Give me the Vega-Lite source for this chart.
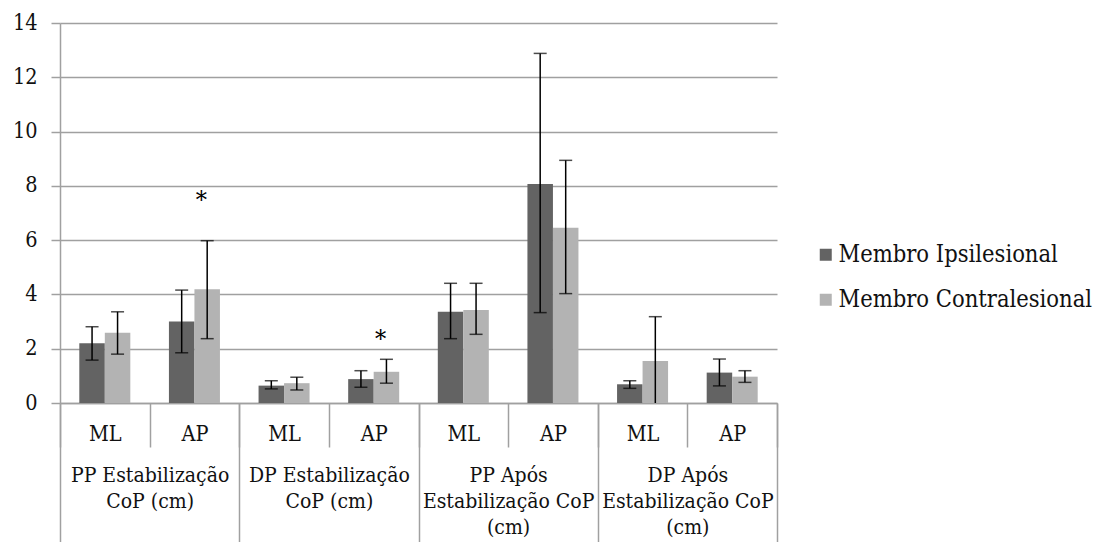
{
  "$schema": "https://vega.github.io/schema/vega-lite/v6.json",
  "width": 717,
  "height": 380,
  "autosize": {"type": "none"},
  "padding": {"left": 60, "top": 23, "right": 318, "bottom": 139},
  "background": "white",
  "config": {
    "view": {"stroke": null},
    "font": "DejaVu Serif Condensed",
    "axis": {"labelFont": "DejaVu Serif Condensed", "labelFontSize": 21.5, "labelColor": "#111111"},
    "legend": {"labelFont": "DejaVu Serif Condensed"}
  },
  "datasets": {
    "bars": [
      {"key": "1|ML", "series": "Membro Ipsilesional", "value": 2.2, "lo": 1.58, "hi": 2.81},
      {"key": "1|ML", "series": "Membro Contralesional", "value": 2.59, "lo": 1.8, "hi": 3.36},
      {"key": "1|AP", "series": "Membro Ipsilesional", "value": 3.0, "lo": 1.85, "hi": 4.16},
      {"key": "1|AP", "series": "Membro Contralesional", "value": 4.19, "lo": 2.37, "hi": 5.98},
      {"key": "2|ML", "series": "Membro Ipsilesional", "value": 0.64, "lo": 0.52, "hi": 0.82},
      {"key": "2|ML", "series": "Membro Contralesional", "value": 0.73, "lo": 0.48, "hi": 0.95},
      {"key": "2|AP", "series": "Membro Ipsilesional", "value": 0.88, "lo": 0.58, "hi": 1.19},
      {"key": "2|AP", "series": "Membro Contralesional", "value": 1.15, "lo": 0.73, "hi": 1.61},
      {"key": "3|ML", "series": "Membro Ipsilesional", "value": 3.36, "lo": 2.37, "hi": 4.41},
      {"key": "3|ML", "series": "Membro Contralesional", "value": 3.43, "lo": 2.53, "hi": 4.41},
      {"key": "3|AP", "series": "Membro Ipsilesional", "value": 8.07, "lo": 3.33, "hi": 12.88},
      {"key": "3|AP", "series": "Membro Contralesional", "value": 6.46, "lo": 4.03, "hi": 8.94},
      {"key": "4|ML", "series": "Membro Ipsilesional", "value": 0.69, "lo": 0.54, "hi": 0.82},
      {"key": "4|ML", "series": "Membro Contralesional", "value": 1.55, "lo": -0.08, "hi": 3.18},
      {"key": "4|AP", "series": "Membro Ipsilesional", "value": 1.12, "lo": 0.63, "hi": 1.62},
      {"key": "4|AP", "series": "Membro Contralesional", "value": 0.97, "lo": 0.76, "hi": 1.19}
    ],
    "stars": [
      {"key": "1|AP", "y": 7.49},
      {"key": "2|AP", "y": 2.36}
    ],
    "groups": [
      {"group": "PP Estabilização|CoP (cm)"},
      {"group": "DP Estabilização|CoP (cm)"},
      {"group": "PP Após|Estabilização CoP|(cm)"},
      {"group": "DP Após|Estabilização CoP|(cm)"}
    ]
  },
  "layer": [
    {
      "data": {"name": "bars"},
      "encoding": {
        "x": {
          "field": "key",
          "type": "nominal",
          "scale": {"domain": ["1|ML", "1|AP", "2|ML", "2|AP", "3|ML", "3|AP", "4|ML", "4|AP"], "paddingInner": 0, "paddingOuter": 0},
          "axis": {
            "title": null,
            "labelFont": "DejaVu Serif Condensed",
            "labelExpr": "datum.value ? split(datum.value, '|')[1] : ''",
            "labelAngle": 0,
            "labelBaseline": "alphabetic",
            "labelPadding": -7,
            "labelOverlap": false,
            "tickBand": "extent",
            "tickSize": 44,
            "tickColor": "#a0a0a0",
            "tickWidth": 1.5,
            "domainColor": "#a0a0a0",
            "domainWidth": 1.5
          }
        }
      },
      "layer": [
        {
          "mark": {"type": "bar"},
          "encoding": {
            "xOffset": {"field": "series", "type": "nominal", "scale": {"domain": ["Membro Ipsilesional", "Membro Contralesional"], "paddingInner": 0, "paddingOuter": 0.757}},
            "y": {
              "field": "value",
              "type": "quantitative",
              "scale": {"domain": [0, 14], "nice": false},
              "axis": {
                "title": null,
                "labelFont": "DejaVu Serif Condensed",
                "values": [0, 2, 4, 6, 8, 10, 12, 14],
                "grid": true,
                "gridColor": "#a0a0a0",
                "gridWidth": 1.5,
                "domainColor": "#a0a0a0",
                "domainWidth": 1.5,
                "tickColor": "#a0a0a0",
                "tickWidth": 1.5,
                "tickSize": 9,
                "labelPadding": 14
              }
            },
            "color": {
              "field": "series",
              "type": "nominal",
              "scale": {"domain": ["Membro Ipsilesional", "Membro Contralesional"], "range": ["#636363", "#b3b3b3"]},
              "legend": {
                "orient": "none",
                "legendX": 754,
                "legendY": 220,
                "title": null,
                "symbolType": "square",
                "symbolSize": 144,
                "symbolStrokeWidth": 0,
                "labelFont": "DejaVu Serif Condensed",
                "labelFontSize": 23.5,
                "labelColor": "#111111",
                "labelOffset": 1,
                "labelLimit": 0,
                "rowPadding": 20
              }
            }
          }
        },
        {
          "mark": {"type": "rule", "color": "#000000", "strokeWidth": 1.5, "clip": true},
          "encoding": {
            "xOffset": {"field": "series", "type": "nominal"},
            "y": {"field": "lo", "type": "quantitative", "title": null},
            "y2": {"field": "hi"}
          }
        },
        {
          "mark": {"type": "tick", "color": "#000000", "size": 13, "thickness": 1.5, "clip": true},
          "encoding": {
            "xOffset": {"field": "series", "type": "nominal"},
            "y": {"field": "hi", "type": "quantitative", "title": null}
          }
        },
        {
          "mark": {"type": "tick", "color": "#000000", "size": 13, "thickness": 1.5, "clip": true},
          "encoding": {
            "xOffset": {"field": "series", "type": "nominal"},
            "y": {"field": "lo", "type": "quantitative", "title": null}
          }
        },
        {
          "data": {"name": "stars"},
          "mark": {"type": "text", "text": "*", "fontSize": 25, "font": "DejaVu Serif Condensed", "color": "#000000", "dx": 7, "baseline": "middle"},
          "encoding": {
            "y": {"field": "y", "type": "quantitative", "title": null}
          }
        }
      ]
    },
    {
      "data": {"name": "groups"},
      "mark": {"type": "text", "text": "", "opacity": 0},
      "encoding": {
        "x": {
          "field": "group",
          "type": "nominal",
          "scale": {"domain": ["PP Estabilização|CoP (cm)", "DP Estabilização|CoP (cm)", "PP Após|Estabilização CoP|(cm)", "DP Após|Estabilização CoP|(cm)"], "paddingInner": 0, "paddingOuter": 0},
          "axis": {
            "orient": "bottom",
            "title": null,
            "labelFont": "DejaVu Serif Condensed",
            "labelFontSize": 21,
            "domain": false,
            "labelAngle": 0,
            "labelExpr": "datum.value ? split(datum.value, '|') : ''",
            "labelLineHeight": 26,
            "labelBaseline": "alphabetic",
            "labelPadding": -61,
            "labelLimit": 0,
            "labelOverlap": false,
            "tickBand": "extent",
            "tickSize": 139,
            "tickColor": "#a0a0a0",
            "tickWidth": 1.5
          }
        }
      }
    }
  ],
  "resolve": {"scale": {"x": "independent"}, "axis": {"x": "independent"}}
}
